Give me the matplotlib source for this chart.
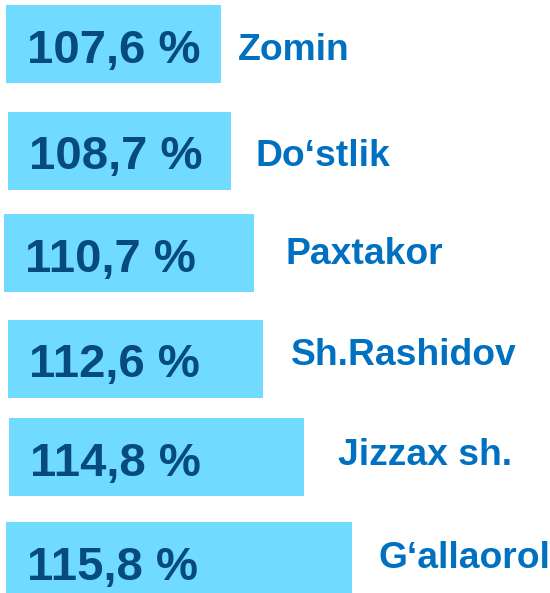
import matplotlib
matplotlib.use("Agg")
import matplotlib.pyplot as plt

# Data (top to bottom)
regions = ["Zomin", "Do\u2018stlik", "Paxtakor", "Sh.Rashidov", "Jizzax sh.", "G\u2018allaorol"]
values = [107.6, 108.7, 110.7, 112.6, 114.8, 115.8]
# bar lengths as drawn in the picture (px)
bar_len = [215, 223, 250, 255, 295, 346]

# Layout (pixel coordinates, y grows downward)
bar_left = [6, 8, 4, 8, 9, 6]
bar_top = [5, 112, 214, 320, 418, 522]
bar_h = 77.5
value_base = [63, 169, 272, 377, 476, 580]
label_gap = [17, 25, 32, 28, 34, 26]
label_base = [60, 166, 264, 365, 465, 568]

bar_color = "#70DBFF"
value_color = "#064A80"
label_color = "#0070C0"

fig = plt.figure(figsize=(5.5, 5.93), dpi=100)
ax = fig.add_axes([0, 0, 1, 1])
ax.set_xlim(0, 550)
ax.set_ylim(593, 0)
ax.axis("off")

ax.barh([t + bar_h / 2 for t in bar_top], bar_len, height=bar_h,
        left=bar_left, color=bar_color, edgecolor="none")

for i in range(len(regions)):
    txt = f"{values[i]:.1f}".replace(".", ",") + " %"
    ax.text(bar_left[i] + 21, value_base[i], txt, ha="left", va="baseline",
            fontsize=34, fontweight="bold", color=value_color,
            family="Liberation Sans")
    ax.text(bar_left[i] + bar_len[i] + label_gap[i], label_base[i], regions[i],
            ha="left", va="baseline", fontsize=26.8, fontweight="bold",
            color=label_color, family="Liberation Sans")

fig.savefig("out.png", dpi=100)
